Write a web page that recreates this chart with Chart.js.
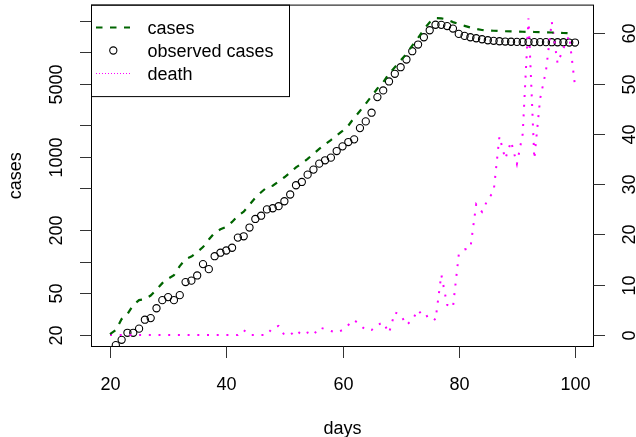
<!DOCTYPE html>
<html>
<head>
<meta charset="utf-8">
<script src="https://cdn.jsdelivr.net/npm/chart.js@4.4.1/dist/chart.umd.min.js"></script>
<style>
  html, body { margin: 0; padding: 0; background: #fff; }
  canvas { display: block; }
</style>
</head>
<body>
<canvas id="covidChart" width="636" height="437"></canvas>
<script>
const days = [20, 21, 22, 23, 24, 25, 26, 27, 28, 29, 30, 31, 32, 33, 34, 35, 36, 37, 38, 39,
    40, 41, 42, 43, 44, 45, 46, 47, 48, 49, 50, 51, 52, 53, 54, 55, 56, 57, 58, 59,
    60, 61, 62, 63, 64, 65, 66, 67, 68, 69, 70, 71, 72, 73, 74, 75, 76, 77, 78, 79,
    80, 81, 82, 83, 84, 85, 86, 87, 88, 89, 90, 91, 92, 93, 94, 95, 96, 97, 98, 99, 100];

// fitted cases, days 20..100
const casesModel = [20.4, 22.3, 28.4, 31.7, 38.6, 43.1, 44.0, 47.6, 54.2, 62.5,
    69.0, 74.5, 90.8, 106, 112, 124, 138, 163, 189, 204,
    215, 240, 274, 300, 350, 408, 460, 514, 531, 583,
    640, 709, 796, 866, 957, 1069, 1192, 1318, 1449, 1607,
    1774, 1991, 2357, 2748, 3220, 3797, 4500, 5167, 6210, 7180,
    8315, 9636, 11560, 13620, 16530, 19260, 21090, 21000, 20460, 19340,
    18530, 17820, 17160, 16680, 16260, 16070, 16000, 15890, 15820, 15780,
    15710, 15640, 15610, 15570, 15540, 15470, 15400, 15300, 15230, 15130, 15030];

// observed cases, days 21..100
const observedCases = [16, 18, 21, 21, 23, 28, 29, 36, 43, 46,
    43, 48, 64, 66, 74, 95, 85, 113, 122, 128,
    136, 170, 175, 212, 256, 275, 316, 324, 339, 378,
    438, 537, 577, 678, 757, 863, 929, 985, 1138, 1262,
    1387, 1472, 1885, 2183, 2643, 3724, 4311, 5250, 6215, 7180,
    8504, 10207, 11816, 13866, 16177, 18240, 18200, 17730, 16780, 14930,
    14290, 13870, 13560, 13270, 12980, 12820, 12700, 12620, 12560, 12520,
    12490, 12480, 12470, 12460, 12450, 12440, 12430, 12420, 12340, 12340];

// deaths, days 20..100 (right axis)
const deaths = [0, 0, 0, 0, 0, 0, 0, 0, 0, 0,
    0, 0, 0, 0, 0, 0, 0, 0, 0, 0,
    0, 0, 0, 1, 0, 0, 0, 0, 1.5, 1.8,
    0, 0, 1, 0, 0.5, 0, 1.5, 1.2, 0.8, 0.5,
    1, 2, 3, 2, 1, 1, 2, 2.5, 0.4, 4.5,
    4, 2, 3, 5, 3.5, 4, 3, 12, 6, 5.5,
    16, 17, 17.3, 26, 24.5, 27, 28.5, 39.5, 35, 38.5,
    34, 40, 63, 35, 47, 52.5, 62.3, 54, 57, 59.5, 49.5];

const xTicks = [20, 40, 60, 80, 100];
const yTicks = [20, 50, 100, 200, 500, 1000, 2000, 5000, 10000, 20000];
const yTickLabels = ['20', '50', '', '200', '', '1000', '', '5000', '', ''];
const y2Ticks = [0, 10, 20, 30, 40, 50, 60];

const FONT = '18px "Liberation Sans", Arial, Helvetica, sans-serif';
const GREEN = '#006400';
const MAGENTA = '#FF00FF';

document.addEventListener('DOMContentLoaded', () => {
    const ctx = document.getElementById('covidChart').getContext('2d');

    const baseAxes = {
        id: 'baseAxes',
        afterDraw(chart) {
            const c = chart.ctx;
            const a = chart.chartArea;
            const sx = chart.scales.x, sy = chart.scales.y, sy2 = chart.scales.y2;
            const tick = 11.5;

            c.save();
            c.strokeStyle = '#000';
            c.lineWidth = 1;
            c.strokeRect(a.left, a.top, a.right - a.left, a.bottom - a.top);

            c.strokeStyle = '#333';
            c.fillStyle = '#000';
            c.font = FONT;

            // bottom axis
            c.textAlign = 'center';
            c.textBaseline = 'alphabetic';
            xTicks.forEach(v => {
                const px = Math.round(sx.getPixelForValue(v)) + 0.5;
                c.beginPath(); c.moveTo(px, a.bottom); c.lineTo(px, a.bottom + tick); c.stroke();
                c.fillText(String(v), px, 390);
            });
            c.fillText('days', (a.left + a.right) / 2, 434);

            // left log axis
            yTicks.forEach((v, i) => {
                const py = Math.round(sy.getPixelForValue(v)) + 0.5;
                c.beginPath(); c.moveTo(a.left - tick, py); c.lineTo(a.left, py); c.stroke();
                if (yTickLabels[i]) {
                    c.save(); c.translate(62, py); c.rotate(-Math.PI / 2);
                    c.fillText(yTickLabels[i], 0, 0); c.restore();
                }
            });
            c.save(); c.translate(21, (a.top + a.bottom) / 2); c.rotate(-Math.PI / 2);
            c.fillText('cases', 0, 0); c.restore();

            // right axis (death)
            y2Ticks.forEach(v => {
                const py = Math.round(sy2.getPixelForValue(v)) + 0.5;
                c.beginPath(); c.moveTo(a.right, py); c.lineTo(a.right + tick, py); c.stroke();
                c.save(); c.translate(634.5, py); c.rotate(-Math.PI / 2);
                c.fillText(String(v), 0, 0); c.restore();
            });

            // legend
            const lx = a.left, ly = a.top;
            c.strokeStyle = '#000';
            c.strokeRect(lx, ly, 198, 91.5);
            c.textAlign = 'left';
            const rows = [34, 57, 80];
            chart.data.datasets.forEach((ds, i) => {
                c.fillText(ds.label, 147.5, rows[i]);
            });
            const cy = rows.map(b => b - 6.5);
            c.save();
            c.strokeStyle = GREEN; c.lineWidth = 2.2; c.setLineDash([6.5, 7.5]);
            c.beginPath(); c.moveTo(96, cy[0]); c.lineTo(130, cy[0]); c.stroke();
            c.restore();
            c.beginPath(); c.arc(113.3, cy[1], 3.6, 0, Math.PI * 2);
            c.lineWidth = 1.1; c.strokeStyle = '#000'; c.stroke();
            c.fillStyle = MAGENTA;
            for (let x = 96; x < 130; x += 3) {
                c.fillRect(x, Math.floor(cy[2]), 1, 1);
            }
            c.restore();
        }
    };

    new Chart(ctx, {
        type: 'line',
        data: {
            datasets: [{
                label: 'cases',
                data: days.map((d, i) => ({ x: d, y: casesModel[i] })),
                yAxisID: 'y',
                borderColor: GREEN,
                borderWidth: 2.2,
                borderDash: [6.5, 7.5],
                borderCapStyle: 'butt',
                pointRadius: 0,
                tension: 0,
                fill: false,
                order: 0
            }, {
                label: 'observed cases',
                data: days.slice(1).map((d, i) => ({ x: d, y: observedCases[i] })),
                yAxisID: 'y',
                showLine: false,
                pointStyle: 'circle',
                pointRadius: 3.6,
                pointBorderWidth: 1.1,
                pointBorderColor: '#000',
                pointBackgroundColor: 'rgba(0,0,0,0)',
                order: 2
            }, {
                label: 'death',
                data: days.map((d, i) => ({ x: d, y: deaths[i] })),
                yAxisID: 'y2',
                borderColor: MAGENTA,
                borderWidth: 2,
                borderDash: [2, 7.7],
                borderCapStyle: 'butt',
                pointRadius: 0,
                tension: 0,
                fill: false,
                order: 1
            }]
        },
        options: {
            responsive: false,
            animation: false,
            events: [],
            layout: { padding: { left: 91.5, right: 42.5, top: 4.5, bottom: 90.5 } },
            scales: {
                x: { type: 'linear', min: 16.817, max: 103.18, bounds: 'data', display: false },
                y: { type: 'logarithmic', min: 15.54, max: 28100, bounds: 'data', display: false },
                y2: { type: 'linear', min: -2.28, max: 65.6, bounds: 'data', display: false }
            },
            plugins: {
                legend: { display: false },
                tooltip: { enabled: false }
            }
        },
        plugins: [baseAxes]
    });
});
</script>
</body>
</html>
